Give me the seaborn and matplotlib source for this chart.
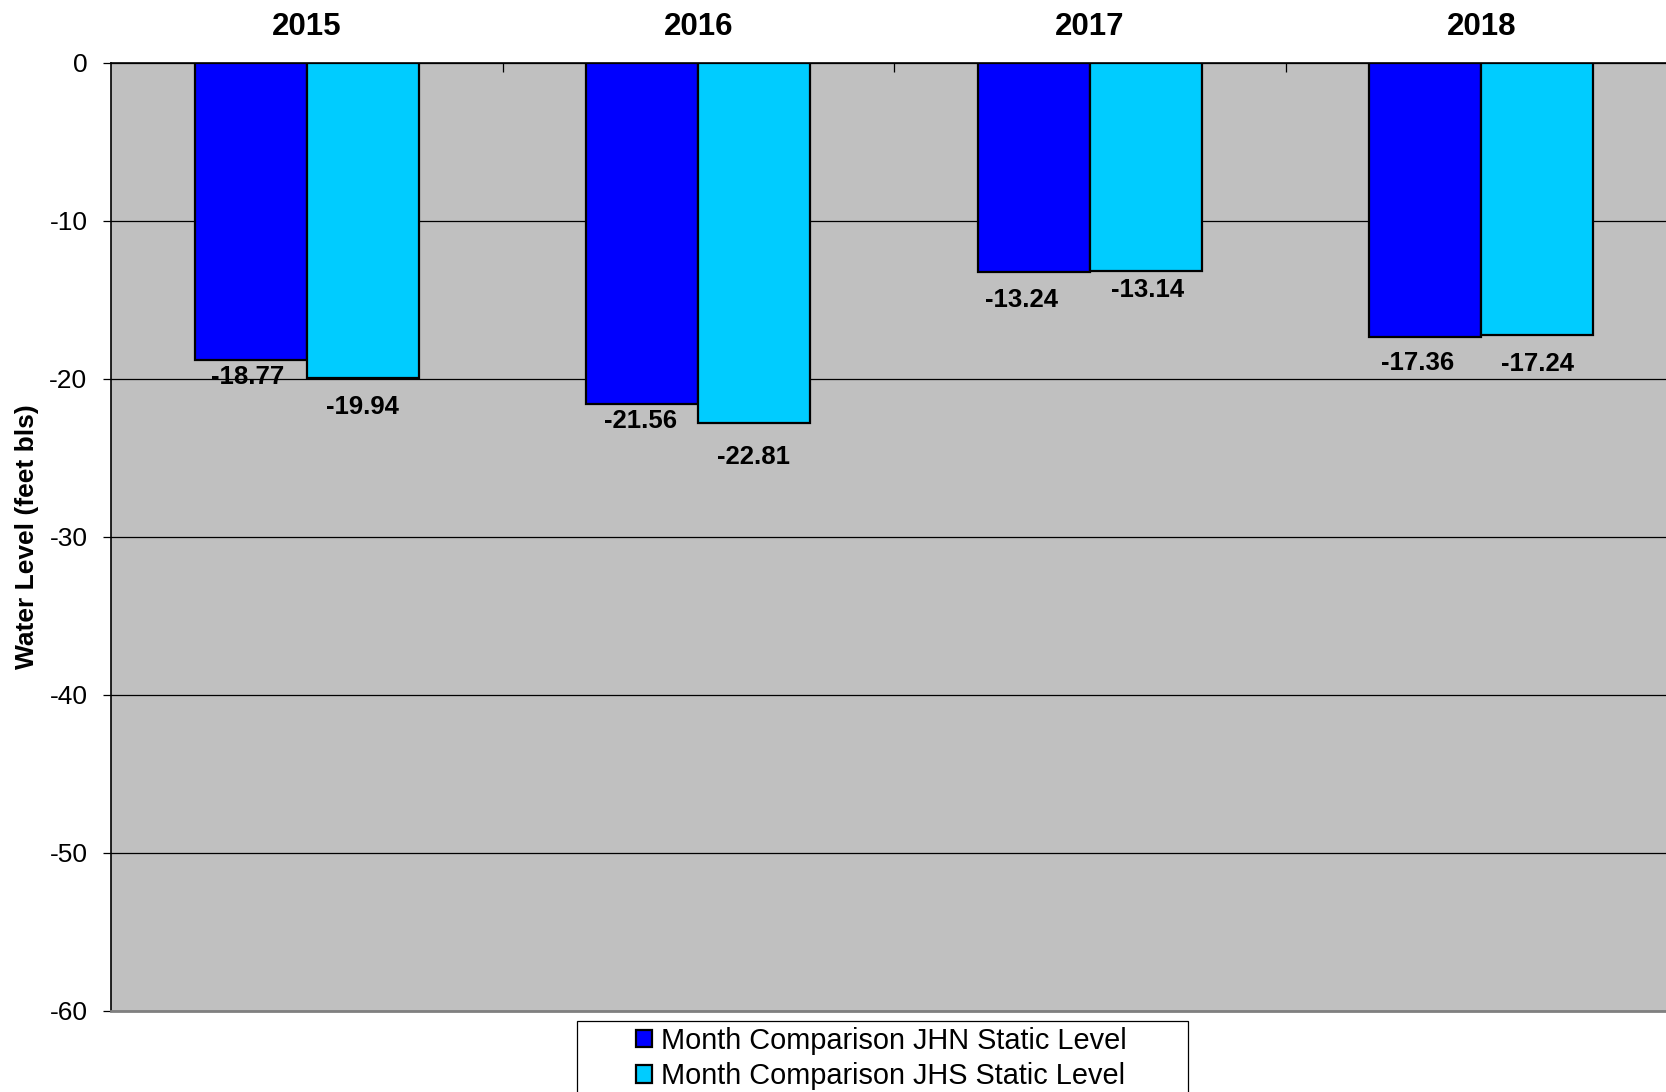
import matplotlib
matplotlib.use("Agg")
import matplotlib.pyplot as plt
import seaborn as sns
import pandas as pd
from matplotlib.patches import Rectangle

years = ["2015", "2016", "2017", "2018"]
series_names = ["Month Comparison JHN Static Level", "Month Comparison JHS Static Level"]
jhn_values = [-18.77, -21.56, -13.24, -17.36]
jhs_values = [-19.94, -22.81, -13.14, -17.24]
y_ticks = [0, -10, -20, -30, -40, -50, -60]

# label offsets (pixels): dx, dy below the bar end
jhn_label_dx = [-3, -2, -12, -8]
jhn_label_dy = [17, 17, 28, 26]
jhs_label_dx = [0, -1, 2, 0]
jhs_label_dy = [29, 34, 19, 29]

df = pd.DataFrame({
    "year": years * 2,
    "series": [series_names[0]] * 4 + [series_names[1]] * 4,
    "value": jhn_values + jhs_values,
})

sns.set_theme(style="white")
plt.rcParams["font.family"] = ["Liberation Sans", "DejaVu Sans"]
plt.rcParams.update({"text.color": "black", "axes.labelcolor": "black",
                     "xtick.color": "black", "ytick.color": "black"})

W, H = 1666, 1092
fig = plt.figure(figsize=(W / 100, H / 100), dpi=100)
ax = fig.add_axes([111 / W, 1 - 1011 / H, (1677 - 111) / W, (1011 - 63) / H])
ax.set_facecolor("#C0C0C0")

palette = {series_names[0]: "#0000FF", series_names[1]: "#00CCFF"}
sns.barplot(data=df, x="year", y="value", hue="series", order=years,
            hue_order=series_names, palette=palette, width=0.573,
            edgecolor="black", linewidth=1.6, saturation=1, ax=ax, zorder=3)

ax.set_ylim(-60, 0)
ax.set_xlim(-0.5, 3.5)
ax.set_yticks(y_ticks)
ax.set_yticklabels([str(t) for t in y_ticks], fontsize=19)
ax.yaxis.grid(True, color="black", linewidth=0.9, zorder=1)
ax.set_axisbelow(True)
ax.tick_params(axis="y", direction="out", length=6, width=0.9, color="black",
               pad=11, left=True)

ax.xaxis.tick_top()
ax.set_xticks(range(len(years)))
ax.set_xticklabels(years, fontsize=22.5, fontweight="bold")
ax.tick_params(axis="x", which="major", length=0, pad=15)
ax.set_xticks([0.5, 1.5, 2.5], minor=True)
ax.tick_params(axis="x", which="minor", direction="in", length=6.5, width=0.9,
               color="black", top=True, bottom=False)
ax.set_xlabel("")

ax.set_ylabel("Water Level (feet bls)", fontsize=19, fontweight="bold")
ax.yaxis.set_label_coords((39 - 111) / (1677 - 111), 0.5)

for side in ["left", "top"]:
    ax.spines[side].set_color("black")
    ax.spines[side].set_linewidth(1.2)
ax.spines["bottom"].set_color("#808080")
ax.spines["bottom"].set_linewidth(2)
ax.spines["right"].set_visible(False)

# value labels
label_dx = [jhn_label_dx, jhs_label_dx]
label_dy = [jhn_label_dy, jhs_label_dy]
for ci, container in enumerate(ax.containers):
    for bi, bar in enumerate(container):
        v = bar.get_height()
        x = bar.get_x() + bar.get_width() / 2
        ax.annotate(f"{v:.2f}", (x, v),
                    xytext=(label_dx[ci][bi] * 0.72, -label_dy[ci][bi] * 0.72),
                    textcoords="offset points", ha="center", va="center",
                    fontsize=18.5, fontweight="bold", color="black", zorder=5)

handles, labels = ax.get_legend_handles_labels()
if ax.get_legend() is not None:
    ax.get_legend().remove()

leg = fig.legend(handles, labels, loc="upper left",
                 bbox_to_anchor=(636 / W, 1 - 1027 / H), frameon=False,
                 fontsize=20.8, handlelength=0.55, handleheight=0.55,
                 handletextpad=0.3, labelspacing=0.25, borderpad=0,
                 borderaxespad=0)
for h in leg.legend_handles:
    h.set_edgecolor("black")
    h.set_linewidth(1.6)

fig.patches.append(Rectangle((577 / W, -0.05), (1188 - 577) / W, (1 - 1021 / H) + 0.05,
                             transform=fig.transFigure, facecolor="white",
                             edgecolor="black", linewidth=0.9, zorder=0))

fig.savefig("out.png", dpi=100)
